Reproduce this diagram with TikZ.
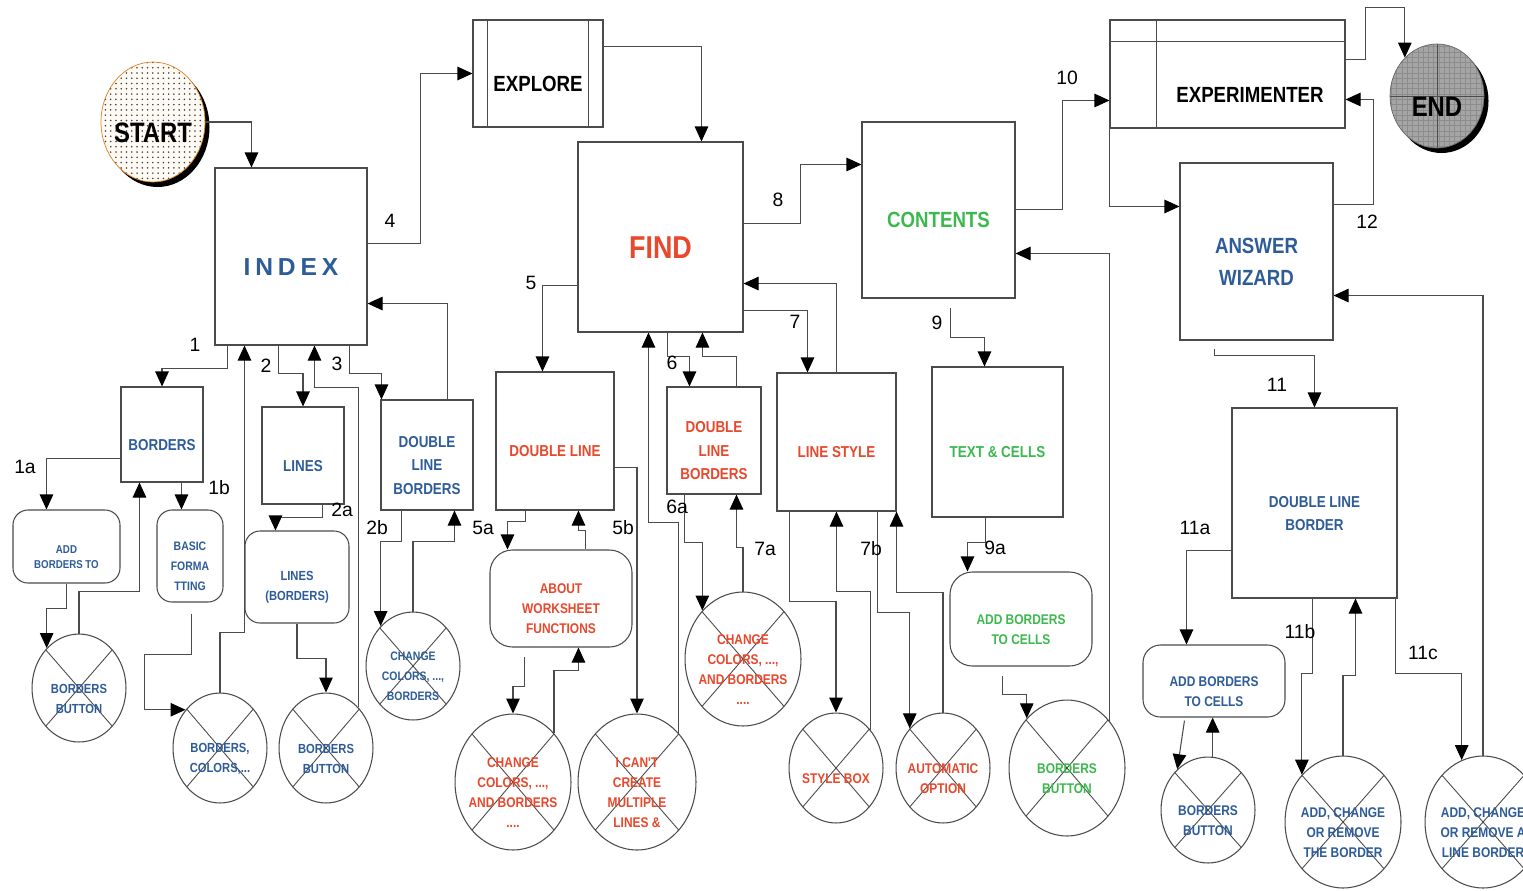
\documentclass[tikz,border=0pt]{standalone}
\usepackage{fontspec}
\setmainfont{Liberation Sans}
\newfontfamily\cnd{Liberation Sans}[FakeStretch=0.85]
\newfontfamily\spc{Liberation Sans}[LetterSpace=20]
\usepackage{xcolor}
\usepackage{tikz}
\usetikzlibrary{positioning,calc,shapes.geometric,arrows.meta,patterns,shadows}

\definecolor{idxblue}{RGB}{46,92,153}
\definecolor{fndred}{RGB}{232,72,44}
\definecolor{cntgreen}{RGB}{60,185,78}
\definecolor{linec}{RGB}{75,75,75}
\definecolor{startfill}{RGB}{255,250,244}
\definecolor{endfill}{RGB}{165,165,165}

% texts sit a little below the middle of their shapes
\newcommand\lowtext{\rule{0pt}{\dimexpr\fontcharht\font`\A+12pt\relax}}

\tikzset{
  box/.style 2 args={draw=linec, line width=0.6pt, fill=white, inner sep=1pt, align=center,
    minimum width=#1*0.02cm, minimum height=#2*0.02cm,
    font=\cnd\bfseries\fontsize{9}{13.4}\selectfont, execute at begin node=\lowtext},
  rbox/.style 2 args={box={#1}{#2}, rounded corners=0.3cm},
  xcirc/.style 2 args={ellipse, draw=linec, line width=0.6pt, fill=white, inner sep=-12pt, align=center,
    minimum width=#1*0.04cm, minimum height=#2*0.04cm,
    font=\cnd\bfseries\fontsize{8}{11.4}\selectfont, execute at begin node=\lowtext,
    path picture={\draw[linec, line width=0.5pt]
      (path picture bounding box.north west) -- (path picture bounding box.south east)
      (path picture bounding box.south west) -- (path picture bounding box.north east);}},
  term/.style 2 args={ellipse, inner sep=-8pt, minimum width=#1*0.02cm, minimum height=#2*0.02cm,
    drop shadow={shadow xshift=0.09cm, shadow yshift=-0.1cm, opacity=1, fill=black},
    font=\cnd\bfseries\fontsize{16}{18}\selectfont, execute at begin node=\lowtext},
  blu/.style={text=idxblue},
  rd/.style={text=fndred},
  grn/.style={text=cntgreen},
  lbl/.style={inner sep=0pt, font=\fontsize{11}{13}\selectfont},
  arr/.style={draw=linec, line width=0.6pt, -{Triangle[length=0.3cm, width=0.27cm, color=black, fill=black]}}
}

\begin{document}
\begin{tikzpicture}[x=0.02cm, y=-0.02cm]
\useasboundingbox (0,0) rectangle (1523,890);
\clip (0,0) rectangle (1523,890);

% terminals
\node[term={104}{120}, draw=orange!50!brown, line width=0.4pt, preaction={fill=startfill},
      pattern=dots, pattern color=black!75] (start) at (153,122) {START};
\node[term={94}{104}, draw=black!60, line width=0.4pt, preaction={fill=endfill},
      pattern=grid, pattern color=black!45,
      path picture={\draw[black!70, line width=0.5pt]
        (path picture bounding box.north) -- (path picture bounding box.south)
        (path picture bounding box.west) -- (path picture bounding box.east);}] (end) at (1437,96) {END};

% main boxes
\node[box={152}{177}, blu, font=\spc\bfseries\fontsize{14}{16}\selectfont] (index) at (291,256.5) {INDEX};
\node[box={130}{107}, font=\cnd\bfseries\fontsize{12.5}{15}\selectfont] (explore) at (538,73.5) {EXPLORE};
\draw[linec, line width=0.6pt] ($(explore.north west)+(15,0)$) -- ($(explore.south west)+(15,0)$)
  ($(explore.north east)+(-15,0)$) -- ($(explore.south east)+(-15,0)$);
\node[box={165}{190}, rd, font=\cnd\bfseries\fontsize{18}{20}\selectfont] (find) at (660.5,237) {FIND};
\node[box={153}{176}, grn, font=\cnd\bfseries\fontsize{12.5}{15}\selectfont] (contents) at (938.5,210) {CONTENTS};
\node[box={235}{108}] (exper) at (1227.5,74) {};
\draw[linec, line width=0.6pt] ($(exper.north west)+(0,22)$) -- ($(exper.north east)+(0,22)$)
  ($(exper.north west)+(47,0)$) -- ($(exper.south west)+(47,0)$);
\node[font=\cnd\bfseries\fontsize{12.5}{15}\selectfont] (expertxt) at (1250,95) {EXPERIMENTER};
\node[box={153}{177}, blu, font=\cnd\bfseries\fontsize{12.5}{18}\selectfont] (wizard) at (1256.5,251.5) {\lowtext ANSWER\\WIZARD};

% second level
\node[box={82}{95}, blu] (borders) at (162,434.5) {BORDERS};
\node[box={82}{97}, blu] (lines) at (303,455.5) {LINES};
\node[box={92}{110}, blu] (dlbblue) at (427,455) {\lowtext DOUBLE\\LINE\\BORDERS};
\node[box={118}{138}, rd] (dlred) at (555,441) {DOUBLE LINE};
\node[box={94}{107}, rd] (dlbred) at (714,440.5) {\lowtext DOUBLE\\LINE\\BORDERS};
\node[box={119}{138}, rd] (linestyle) at (836.5,442) {LINE STYLE};
\node[box={131}{150}, grn] (textcells) at (997.5,442) {TEXT \& CELLS};
\node[box={165}{190}, blu] (dlborder) at (1314.5,503) {\lowtext DOUBLE LINE\\BORDER};

% rounded topics
\node[rbox={107}{73}, blu, font=\cnd\bfseries\fontsize{6.5}{9}\selectfont] (addto) at (66.5,546.5) {\lowtext ADD\\BORDERS TO};
\node[rbox={66}{92}, blu, font=\cnd\bfseries\fontsize{7}{11.4}\selectfont] (basic) at (190,556) {\lowtext BASIC\\FORMA\\TTING};
\node[rbox={104}{92}, blu, font=\cnd\bfseries\fontsize{7.5}{11.4}\selectfont] (linesb) at (297,577) {\lowtext LINES\\(BORDERS)};
\node[rbox={142}{97}, rd, rounded corners=0.45cm, font=\cnd\bfseries\fontsize{8}{11.4}\selectfont] (about) at (561,598.5) {\lowtext ABOUT\\WORKSHEET\\FUNCTIONS};
\node[rbox={142}{94}, grn, rounded corners=0.45cm, font=\cnd\bfseries\fontsize{8}{11.4}\selectfont] (addcellsg) at (1021,619) {\lowtext ADD BORDERS\\TO CELLS};
\node[rbox={142}{72}, blu, rounded corners=0.35cm, font=\cnd\bfseries\fontsize{8}{11.4}\selectfont] (addcellsb) at (1214,681) {\lowtext ADD BORDERS\\TO CELLS};

% crossed-out help pages
\node[xcirc={47}{54}, blu, font=\cnd\bfseries\fontsize{7.5}{11.4}\selectfont] (bb1) at (79,688) {\lowtext BORDERS\\BUTTON};
\node[xcirc={47}{55}, blu, font=\cnd\bfseries\fontsize{7.5}{11.4}\selectfont] (bcol) at (220,748) {\lowtext BORDERS,\\COLORS,...};
\node[xcirc={47}{55}, blu, font=\cnd\bfseries\fontsize{7.5}{11.4}\selectfont] (bb2) at (326,748) {\lowtext BORDERS\\BUTTON};
\node[xcirc={47}{54}, blu, font=\cnd\bfseries\fontsize{7}{11.4}\selectfont] (chg1) at (413,666) {\lowtext CHANGE\\COLORS, ...,\\BORDERS};
\node[xcirc={58}{68}, rd] (chg2) at (513,782) {\lowtext CHANGE\\COLORS, ...,\\AND BORDERS\\....};
\node[xcirc={59}{68}, rd] (cant) at (637,782) {\lowtext I CAN'T\\CREATE\\MULTIPLE\\LINES \&};
\node[xcirc={58}{67}, rd] (chg3) at (743,659) {\lowtext CHANGE\\COLORS, ...,\\AND BORDERS\\....};
\node[xcirc={47}{55}, rd] (stylebox) at (836,768) {STYLE BOX};
\node[xcirc={47}{55}, rd] (auto) at (943,768) {\lowtext AUTOMATIC\\OPTION};
\node[xcirc={58}{68}, grn] (bbg) at (1067,768) {\lowtext BORDERS\\BUTTON};
\node[xcirc={47}{53}, blu] (bb3) at (1208,810) {\lowtext BORDERS\\BUTTON};
\node[xcirc={58}{66}, blu] (acr) at (1343,822) {\lowtext ADD, CHANGE\\OR REMOVE\\THE BORDER};
\node[xcirc={58}{66}, blu] (acra) at (1483,822) {\lowtext ADD, CHANGE\\OR REMOVE A\\LINE BORDER};

% top level flow
\draw[arr] (start.east) -| ($(index.north west)+(37,0)$);
\draw[arr] ($(index.north east)+(0,76)$) -- ++(53,0) |- (explore.west);
\draw[arr] ($(explore.north east)+(0,27)$) -| ($(find.north west)+(124,0)$);
\draw[arr] ($(find.north east)+(0,82)$) -- ++(57,0) |- ($(contents.north west)+(0,43)$);
\draw[arr] ($(contents.north east)+(0,88)$) -- ++(47,0) |- ($(exper.north west)+(0,81)$);
\draw[arr] ($(exper.north east)+(0,40)$) -- ++(20,0) |- ($(end.130)+(0,-50)$) -- (end.130);
\draw[arr] ($(wizard.north east)+(0,42)$) -- ++(40,0) |- ($(exper.north east)+(0,80)$);
\draw[arr] (exper.south west) |- ($(wizard.north west)+(0,44)$);

% index branch
\draw[arr] ($(index.south west)+(13,0)$) -- ++(0,23) -| (borders.north);
\draw[arr] ($(borders.north west)+(0,72)$) -| ($(addto.north west)+(34,0)$);
\draw[arr] ($(borders.south west)+(61,0)$) -- ($(basic.north west)+(25,0)$);
\draw[arr] (bb1.north) -- ++(0,-42) -| ($(borders.south west)+(19,0)$);
\draw[arr] ($(addto.south west)+(54,0)$) -- ++(0,25) -| (bb1.129);
\draw[arr] ($(basic.south west)+(35,11)$) -- ++(0,41) -| ($(bcol.132)+(-41,0)$) -- (bcol.132);
\draw[arr] (bcol.north) -- ++(0,-60) -| ($(index.south west)+(30,0)$);
\draw[arr] ($(index.south west)+(64,0)$) -- ++(0,28) -| (lines.north);
\draw[arr] ($(lines.south west)+(61,0)$) -- ++(0,13) -| ($(linesb.north west)+(31,0)$);
\draw[arr] (linesb.south) -- ++(0,35) -| (bb2.north);
\draw[arr] (bb2.52) |- ($(index.south west)+(100,42)$) -- ($(index.south west)+(100,0)$);
\draw[arr] ($(index.south east)+(-18,0)$) -- ++(0,28) -| ($(dlbblue.north west)+(1,0)$);
\draw[arr] ($(dlbblue.north west)+(67,0)$) |- ($(index.south east)+(0,-42)$);
\draw[arr] ($(dlbblue.south west)+(21,0)$) -- ++(0,31) -| (chg1.129);
\draw[arr] (chg1.north) -- ++(0,-70) -| ($(dlbblue.south west)+(74,0)$);

% find branch
\draw[arr] ($(find.south west)+(0,-47)$) -| ($(dlred.north west)+(47,0)$);
\draw[arr] ($(dlred.south west)+(30,0)$) -- ++(0,11) -| ($(about.north west)+(18,0)$);
\draw[arr] ($(about.north west)+(96,0)$) -- ++(0,-19) -| ($(dlred.south west)+(83,0)$);
\draw[arr] ($(dlred.north east)+(0,96)$) -| (cant.north);
\draw[arr] ($(about.south west)+(35,9)$) -- ++(0,30) -| (chg2.north);
\draw[arr] (chg2.50) |- ($(about.south west)+(89,23)$) -- ($(about.south west)+(89,0)$);
\draw[arr] (cant.50) |- ($(find.south west)+(71,190)$) -- ($(find.south west)+(71,0)$);
\draw[arr] ($(find.south west)+(90,0)$) -- ++(0,24) -| ($(dlbred.north west)+(23,0)$);
\draw[arr] ($(dlbred.north west)+(70,0)$) -- ++(0,-30) -| ($(find.south west)+(125,0)$);
\draw[arr] ($(dlbred.south west)+(18,0)$) -- ++(0,48) -| (chg3.130);
\draw[arr] (chg3.north) -- ++(0,-44) -| ($(dlbred.south west)+(70,0)$);
\draw[arr] ($(find.south east)+(0,-22)$) -| ($(linestyle.north west)+(31,0)$);
\draw[arr] ($(linestyle.north west)+(60,0)$) |- ($(find.south east)+(0,-49)$);
\draw[arr] ($(linestyle.south west)+(13,0)$) -- ++(0,90) -| (stylebox.north);
\draw[arr] (stylebox.48) |- ($(linestyle.south west)+(60,80)$) -- ($(linestyle.south west)+(60,0)$);
\draw[arr] ($(linestyle.south west)+(101,0)$) -- ++(0,101) -| (auto.130);
\draw[arr] (auto.north) |- ($(linestyle.south east)+(0,81)$) -- (linestyle.south east);

% contents branch
\draw[arr] ($(contents.south west)+(89,9)$) -- ++(0,30) -| ($(textcells.north west)+(53,0)$);
\draw[arr] ($(textcells.south west)+(54,0)$) -- ++(0,25) -| ($(addcellsg.north west)+(18,0)$);
\draw[arr] ($(addcellsg.south west)+(53,9)$) -- ++(0,19) -| (bbg.129);
\draw[arr] (bbg.48) |- ($(contents.north east)+(0,132)$);

% answer wizard branch
\draw[arr] ($(wizard.south west)+(35,8)$) -- ++(0,7) -| ($(dlborder.north west)+(83,0)$);
\draw[arr] ($(dlborder.south west)+(0,-48)$) -| ($(addcellsb.north west)+(44,0)$);
\draw[arr] ($(addcellsb.south west)+(42,3)$) -- (bb3.127);
\draw[arr] (bb3.85) -- (bb3.85 |- addcellsb.south);
\draw[arr] ($(dlborder.south west)+(81,0)$) -- ++(0,75) -| (acr.131);
\draw[arr] (acr.north) -- ++(0,-80) -| ($(dlborder.south west)+(124,0)$);
\draw[arr] ($(dlborder.south east)+(-2,0)$) -- ++(0,75) -| (acra.109);
\draw[arr] (acra.north) |- ($(wizard.south east)+(0,-45)$);

% path numbers
\node[lbl] (n1) at (195,345) {1};
\node[lbl] (n2) at (266,366) {2};
\node[lbl] (n3) at (337,364) {3};
\node[lbl] (n4) at (390,221) {4};
\node[lbl] (n1a) at (25,467) {1a};
\node[lbl] (n1b) at (219,488) {1b};
\node[lbl] (n2a) at (342,510) {2a};
\node[lbl] (n2b) at (377,528) {2b};
\node[lbl] (n5) at (531,283) {5};
\node[lbl] (n5a) at (483,528) {5a};
\node[lbl] (n5b) at (623,528) {5b};
\node[lbl] (n6) at (672,363) {6};
\node[lbl] (n6a) at (677,507) {6a};
\node[lbl] (n7) at (795,322) {7};
\node[lbl] (n7a) at (765,549) {7a};
\node[lbl] (n7b) at (871,549) {7b};
\node[lbl] (n8) at (778,200) {8};
\node[lbl] (n9) at (937,323) {9};
\node[lbl] (n9a) at (995,548) {9a};
\node[lbl] (n10) at (1067,78) {10};
\node[lbl] (n11) at (1277,385) {11};
\node[lbl] (n12) at (1367,222) {12};
\node[lbl] (n11a) at (1195,528) {11a};
\node[lbl] (n11b) at (1300,632) {11b};
\node[lbl] (n11c) at (1423,653) {11c};
\end{tikzpicture}
\end{document}
